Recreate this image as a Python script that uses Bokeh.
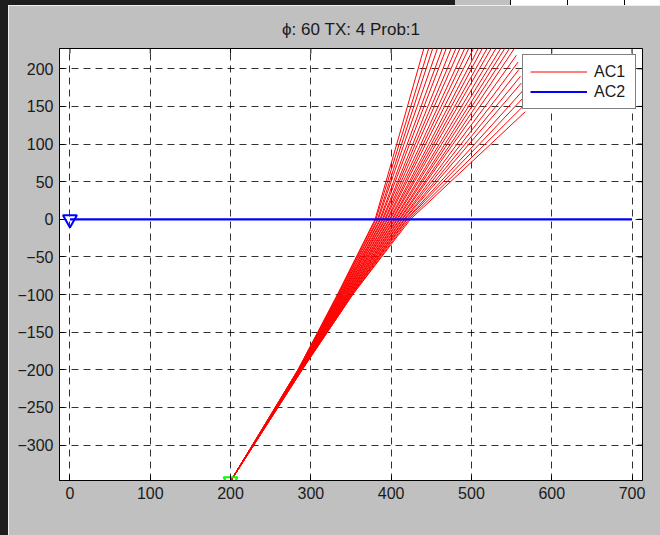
import math
from bokeh.plotting import figure
from bokeh.models import Range1d, LinearAxis, FixedTicker, Div, Legend, LegendItem
from bokeh.layouts import row, column
from bokeh.embed import file_html
from bokeh.resources import INLINE

# ---------------- data ----------------
title_text = "ϕ: 60 TX: 4 Prob:1"
x_ticks = [0, 100, 200, 300, 400, 500, 600, 700]
y_ticks = [-300, -250, -200, -150, -100, -50, 0, 50, 100, 150, 200]
x_limits = [-13, 713]
y_limits = [-347, 227]

# AC1: fan of trajectories starting at one point
ac1_start_x = 200
ac1_start_y = -348
ac1_y_levels = [-200, -100, 0, 100]
ac1_x_at_m200 = [284, 284, 284, 285, 285, 285, 285, 285, 285, 286, 286, 286, 286, 286, 286,
                 287, 287, 287, 287, 287, 287, 288, 288, 288, 288, 288, 288, 289, 289, 289]
ac1_x_at_m100 = [333, 334, 334, 335, 336, 336, 337, 338, 338, 339, 340, 340, 341, 342, 342,
                 343, 344, 344, 345, 346, 346, 347, 348, 348, 349, 350, 350, 351, 352, 352]
ac1_x_at_0 = [380, 381, 383, 384, 386, 387, 389, 390, 392, 393, 395, 396, 398, 399, 401,
              402, 404, 405, 407, 408, 410, 411, 413, 414, 416, 417, 419, 420, 422, 424]
ac1_x_at_100 = [407, 410, 413, 416, 420, 423, 427, 430, 433, 437, 440, 443, 447, 450, 453,
                456, 460, 463, 467, 470, 474, 477, 482, 487, 492, 497, 504, 510, 517, 524]
ac1_x_end = [441, 447, 452, 458, 464, 469, 475, 481, 486, 492, 497, 503, 509, 514, 520,
             525, 531, 537, 542, 548, 554, 556, 558, 559, 561, 562, 564, 565, 566, 567]
ac1_y_end = [228] * 21 + [218, 209, 199, 190, 181, 171, 162, 152, 143]

# AC2: straight path along y = 0
ac2_x = [0, 700]
ac2_y = [0, 0]

# ---------------- figure ----------------
FONT = "Liberation Sans"
GRAY = "#c0c0c0"
TXT = "#1a1a1a"

p = figure(width=652, height=530, output_backend="svg", toolbar_location=None,
           x_range=Range1d(*x_limits), y_range=Range1d(*y_limits),
           min_border_left=51, min_border_right=18, min_border_top=43, min_border_bottom=55,
           background_fill_color="white", border_fill_color=GRAY,
           x_axis_location=None, y_axis_location=None)
p.outline_line_color = "black"
p.outline_line_width = 1

p.title.text = title_text
p.title.align = "center"
p.title.text_font = FONT
p.title.text_font_size = "17px"
p.title.text_font_style = "normal"
p.title.text_color = TXT
p.title.standoff = 19


def make_axis(ticks):
    ax = LinearAxis(ticker=FixedTicker(ticks=ticks))
    ax.major_tick_in = 5
    ax.major_tick_out = 0
    ax.minor_tick_line_color = None
    ax.axis_line_color = "black"
    ax.major_tick_line_color = "black"
    ax.major_label_text_font = FONT
    ax.major_label_text_font_size = "16px"
    ax.major_label_text_color = TXT
    ax.major_label_standoff = 6
    return ax


p.add_layout(make_axis(x_ticks), "below")
p.add_layout(make_axis(y_ticks), "left")

p.xgrid.ticker = FixedTicker(ticks=x_ticks)
p.ygrid.ticker = FixedTicker(ticks=y_ticks)
for g in (p.xgrid, p.ygrid):
    g.grid_line_color = "black"
    g.grid_line_alpha = 0.8
    g.grid_line_dash = "7 5"
    g.grid_line_width = 1

# inward ticks on the top and right edges of the box
p.scatter(x_ticks, [y_limits[1]] * len(x_ticks), marker="dash", size=10, angle=math.pi / 2,
          line_color="black", line_width=1)
p.scatter([x_limits[1]] * len(y_ticks), y_ticks, marker="dash", size=10,
          line_color="black", line_width=1)

# AC1 trajectories
xs, ys = [], []
for i in range(len(ac1_x_end)):
    xs.append([ac1_start_x, ac1_x_at_m200[i], ac1_x_at_m100[i], ac1_x_at_0[i], ac1_x_at_100[i], ac1_x_end[i]])
    ys.append([ac1_start_y] + ac1_y_levels + [ac1_y_end[i]])
r1 = p.multi_line(xs, ys, line_color="#ff0000", line_width=1)

# AC2
r2 = p.line(ac2_x, ac2_y, line_color="#0000ff", line_width=2.2)

# start markers
p.scatter([ac2_x[0]], [ac2_y[0]], marker="inverted_triangle", size=14,
          fill_color=None, line_color="#0000ff", line_width=2)
p.scatter([ac1_start_x], [ac1_start_y], marker="inverted_triangle", size=14,
          fill_color=None, line_color="#00ff00", line_width=2)

legend = Legend(items=[LegendItem(label="AC1", renderers=[r1]),
                       LegendItem(label="AC2", renderers=[r2])],
                location="top_right")
legend.margin = 6
legend.padding = 7
legend.spacing = 1
legend.glyph_width = 57
legend.glyph_height = 19
legend.label_height = 19
legend.label_width = 34
legend.label_standoff = 7
legend.label_text_font = FONT
legend.label_text_font_size = "16px"
legend.label_text_color = TXT
legend.border_line_color = "black"
legend.border_line_width = 1.5
legend.background_fill_color = "white"
legend.background_fill_alpha = 1
p.add_layout(legend, "center")


def strip(w, h, bg, extra=None):
    st = {"background-color": bg, "box-sizing": "border-box"}
    if extra:
        st.update(extra)
    return Div(text="", width=w, height=h, styles=st, margin=0)


edge = {"border-left": "1px solid #000"}
top = row(strip(455, 5, "#1e1e1e"), strip(55, 5, GRAY), strip(57, 5, "#ffffff", edge),
          strip(57, 5, "#ffffff", edge), strip(36, 5, "#ffffff", edge), spacing=0)
body = row(strip(8, 530, "#1e1e1e"), p, spacing=0)
root = column(top, body, spacing=0)

open("out.html", "w").write(file_html(root, INLINE))
